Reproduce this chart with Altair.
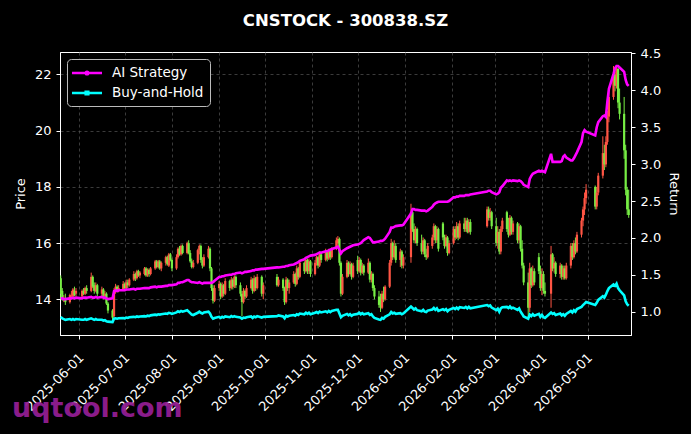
import altair as alt
import pandas as pd

# ---- trading calendar (SZSE) ----
holidays = ["2025-06-02", "2025-10-01", "2025-10-02", "2025-10-03", "2025-10-06",
            "2025-10-07", "2025-10-08", "2026-01-01", "2026-01-02", "2026-02-16",
            "2026-02-17", "2026-02-18", "2026-02-19", "2026-02-20", "2026-02-23",
            "2026-04-06", "2026-05-01", "2026-05-04", "2026-05-05"]
dates = [d.strftime("%Y-%m-%dT00:00:00") for d in pd.bdate_range("2025-05-20", "2026-05-28")
         if d.strftime("%Y-%m-%d") not in holidays]

# ---- OHLC ----
opens = [
    # 2025-05
    14.75, 14.30, 14.00, 14.05, 13.90, 14.10, 14.10, 14.30, 14.20,
    # 2025-06
    14.10, 14.30, 14.20, 14.40, 14.30, 14.80, 14.50, 14.30, 14.50, 14.20,
    14.35, 14.10, 14.20, 13.85, 13.60, 13.40, 14.30, 14.45, 14.30, 14.35,
    # 2025-07
    14.55, 14.40, 14.60, 14.50, 14.70, 14.90, 14.75, 15.00, 14.85, 14.90, 15.10, 14.85,
    15.05, 14.90, 15.10, 15.35, 15.15, 15.35, 15.10, 15.30, 15.50, 15.20, 15.60,
    # 2025-08
    15.40, 15.10, 15.50, 15.80, 15.60, 15.90, 15.65, 16.00, 15.65, 15.35, 15.15,
    15.30, 15.75, 15.90, 15.40, 15.20, 15.50, 15.80, 15.10, 14.40, 13.95,
    # 2025-09
    14.40, 14.55, 14.10, 14.50, 14.20, 14.65, 14.40, 14.70, 14.45, 14.80, 14.50,
    14.20, 13.90, 14.30, 14.10, 14.40, 14.70, 14.30, 14.75, 14.40, 14.80, 14.20,
    # 2025-10
    14.80, 14.50, 14.70, 14.40, 13.90, 14.70, 14.40, 14.60, 14.90, 14.55, 15.10,
    14.80, 15.30, 15.00, 15.40, 15.00, 15.35,
    # 2025-11
    14.90, 15.30, 15.50, 15.20, 15.60, 15.40, 15.70, 15.45, 15.75, 15.50,
    15.80, 16.00, 16.15, 15.30, 14.20, 14.80, 15.30, 14.90, 15.25, 14.80,
    # 2025-12
    15.40, 15.00, 15.40, 14.95, 15.20, 14.95, 15.30, 14.70, 14.90, 14.40, 14.10, 13.80,
    13.70, 14.20, 14.00, 14.45, 15.30, 16.00, 15.50, 15.90, 15.40, 15.70, 15.20,
    # 2026-01
    15.50, 17.10, 16.50, 16.10, 16.50, 16.00, 15.70, 16.10, 15.60, 15.50,
    15.90, 16.20, 16.60, 16.10, 16.50, 16.70, 16.20, 15.90, 16.20, 15.65,
    # 2026-02
    16.00, 16.50, 16.20, 16.60, 16.20, 16.70, 16.50, 16.80, 16.40, 16.75,
    16.60, 17.20, 16.90, 17.10,
    # 2026-03
    16.60, 16.00, 16.40, 15.70, 16.50, 17.10, 16.50, 16.30, 16.90, 16.40, 16.70,
    16.10, 16.60, 15.80, 15.20, 14.60, 13.70, 15.10, 14.50, 15.00, 15.50, 15.00,
    # 2026-04
    14.40, 14.90, 14.30, 14.20, 15.60, 15.10, 15.30, 14.90, 15.20, 14.80, 15.10,
    14.75, 15.20, 15.90, 15.50, 16.00, 15.70, 16.30, 16.80, 17.20, 17.60,
    # 2026-05
    18.00, 17.30, 17.80, 18.40, 19.20, 18.80, 19.60, 20.50, 21.20, 22.00,
    21.60, 22.20, 21.00, 20.60, 19.30, 17.90, 17.20,
]
highs = [
    14.85, 14.40, 14.15, 14.20, 14.20, 14.30, 14.40, 14.45, 14.40,
    14.35, 14.40, 14.45, 14.50, 14.95, 14.85, 14.60, 14.60, 14.55, 14.45,
    14.40, 14.30, 14.25, 13.90, 13.65, 14.40, 14.55, 14.50, 14.50, 14.65,
    14.60, 14.70, 14.70, 14.75, 15.00, 14.95, 15.05, 15.05, 15.00, 15.15, 15.15, 15.10,
    15.10, 15.15, 15.40, 15.40, 15.40, 15.40, 15.35, 15.55, 15.55, 15.65, 15.65,
    15.45, 15.60, 15.85, 15.90, 15.95, 15.95, 16.05, 16.10, 15.75, 15.45, 15.40,
    15.80, 15.95, 15.95, 15.50, 15.60, 15.90, 15.85, 15.15, 14.50, 14.50,
    14.65, 14.60, 14.60, 14.55, 14.75, 14.70, 14.80, 14.75, 14.85, 14.85, 14.60,
    14.30, 14.40, 14.35, 14.50, 14.80, 14.75, 14.85, 14.80, 14.90, 14.85, 14.60,
    14.90, 14.80, 14.75, 14.45, 14.80, 14.75, 14.70, 15.00, 14.95, 15.20, 15.15,
    15.35, 15.35, 15.50, 15.45, 15.45, 15.40,
    15.40, 15.55, 15.55, 15.70, 15.65, 15.80, 15.75, 15.80, 15.80, 15.85,
    16.20, 16.25, 16.20, 15.35, 14.90, 15.40, 15.35, 15.35, 15.30, 15.30,
    15.55, 15.50, 15.45, 15.30, 15.25, 15.45, 15.35, 15.00, 14.95, 14.50, 14.30, 14.20,
    14.30, 14.45, 14.50, 15.40, 16.15, 16.05, 16.10, 16.00, 15.80, 15.75, 15.60,
    17.40, 17.20, 16.70, 16.60, 16.55, 16.30, 16.20, 16.15, 15.80, 16.00,
    16.30, 16.70, 16.65, 16.60, 16.55, 16.75, 16.30, 16.30, 16.25, 16.10,
    16.60, 16.60, 16.75, 16.70, 16.80, 16.90, 16.90, 16.90, 16.85, 16.85,
    17.30, 17.30, 17.25, 17.15,
    16.90, 16.60, 16.50, 16.60, 16.90, 17.15, 16.90, 17.00, 16.95, 16.80, 16.75,
    16.70, 16.65, 16.10, 15.30, 14.95, 15.30, 15.15, 15.20, 15.10, 15.65, 15.20,
    15.10, 15.00, 14.60, 15.90, 15.65, 15.50, 15.35, 15.30, 15.25, 15.20, 15.20,
    15.30, 16.00, 16.00, 16.10, 16.20, 16.40, 16.90, 17.30, 17.80, 18.10,
    18.05, 18.00, 18.50, 19.80, 19.50, 19.80, 20.70, 21.50, 22.30, 22.10,
    22.30, 22.25, 21.50, 21.20, 19.50, 18.00, 17.90,
]
lows = [
    14.00, 13.95, 13.90, 13.80, 13.85, 14.00, 14.05, 14.10, 14.10,
    14.05, 14.15, 14.15, 14.20, 14.25, 14.40, 14.20, 14.25, 14.10, 14.10,
    14.00, 14.00, 13.80, 13.50, 13.25, 13.35, 14.20, 14.25, 14.25, 14.30,
    14.35, 14.35, 14.40, 14.45, 14.65, 14.65, 14.70, 14.80, 14.75, 14.85, 14.80, 14.80,
    14.80, 14.85, 15.05, 15.10, 15.10, 15.05, 15.00, 15.20, 15.20, 15.15, 15.35,
    15.00, 15.05, 15.45, 15.55, 15.55, 15.60, 15.60, 15.60, 15.30, 15.10, 15.10,
    15.25, 15.60, 15.30, 15.10, 15.15, 15.45, 15.00, 14.30, 13.85, 13.90,
    14.30, 14.00, 14.05, 14.10, 14.15, 14.30, 14.35, 14.35, 14.40, 14.40, 14.10,
    13.40, 13.85, 14.00, 14.05, 14.35, 14.20, 14.25, 14.30, 14.35, 14.10, 14.00,
    14.45, 14.45, 14.30, 13.80, 13.85, 14.30, 14.20, 14.55, 14.45, 14.50, 14.70,
    14.75, 14.90, 14.95, 14.90, 14.90, 14.80,
    14.85, 15.20, 15.10, 15.15, 15.30, 15.35, 15.35, 15.40, 15.40, 15.45,
    15.75, 15.90, 15.20, 14.10, 14.15, 14.75, 14.80, 14.85, 14.70, 14.75,
    14.90, 14.95, 14.85, 14.90, 14.85, 14.90, 14.60, 14.60, 14.30, 14.00, 13.70, 13.55,
    13.65, 13.90, 13.95, 14.40, 15.20, 15.40, 15.45, 15.30, 15.15, 15.10, 15.10,
    15.30, 16.40, 16.00, 16.00, 15.90, 15.60, 15.60, 15.50, 15.40, 15.45,
    15.80, 16.10, 16.00, 16.00, 15.70, 16.10, 15.80, 15.85, 15.55, 15.60,
    15.95, 16.10, 16.15, 16.10, 16.15, 16.40, 16.40, 16.35, 16.35, 16.30,
    16.55, 16.80, 16.80, 16.50,
    15.90, 15.80, 15.60, 15.60, 16.40, 16.40, 16.20, 16.25, 16.30, 16.30, 16.00,
    16.00, 15.70, 15.10, 14.50, 13.35, 13.55, 14.40, 14.45, 14.50, 14.90, 14.30,
    14.15, 14.20, 14.10, 13.70, 15.00, 14.95, 14.80, 14.75, 14.70, 14.70, 14.70,
    14.70, 15.10, 15.40, 15.45, 15.60, 15.65, 16.20, 16.60, 17.00, 17.40,
    17.20, 17.20, 17.70, 18.30, 18.60, 18.70, 19.50, 20.30, 21.10, 21.40,
    21.50, 20.80, 20.40, 19.00, 17.70, 17.00, 16.90,
]
closes = [
    14.20, 14.00, 14.05, 13.90, 14.15, 14.10, 14.35, 14.15, 14.30,
    14.30, 14.20, 14.40, 14.30, 14.80, 14.45, 14.30, 14.50, 14.20, 14.35,
    14.10, 14.20, 13.85, 13.60, 13.35, 14.30, 14.45, 14.30, 14.40, 14.55,
    14.40, 14.60, 14.50, 14.70, 14.90, 14.75, 15.00, 14.85, 14.95, 15.10, 14.85, 15.05,
    14.90, 15.10, 15.35, 15.15, 15.35, 15.10, 15.30, 15.50, 15.25, 15.60, 15.40,
    15.10, 15.50, 15.80, 15.60, 15.90, 15.65, 16.00, 15.65, 15.35, 15.15, 15.30,
    15.75, 15.90, 15.40, 15.20, 15.50, 15.80, 15.10, 14.40, 13.95, 14.40,
    14.55, 14.10, 14.50, 14.20, 14.65, 14.40, 14.70, 14.45, 14.80, 14.50, 14.20,
    13.90, 14.30, 14.10, 14.40, 14.70, 14.30, 14.75, 14.40, 14.80, 14.20, 14.50,
    14.50, 14.70, 14.40, 13.90, 14.70, 14.40, 14.60, 14.90, 14.55, 15.10, 14.80,
    15.30, 15.00, 15.40, 15.00, 15.35, 14.90,
    15.30, 15.50, 15.20, 15.60, 15.40, 15.70, 15.45, 15.75, 15.50, 15.80,
    16.10, 16.15, 15.30, 14.20, 14.80, 15.30, 14.90, 15.25, 14.80, 15.20,
    15.00, 15.40, 14.95, 15.20, 14.95, 15.30, 14.70, 14.90, 14.40, 14.10, 13.80, 13.70,
    14.20, 14.00, 14.45, 15.30, 16.00, 15.50, 15.90, 15.40, 15.70, 15.20, 15.50,
    17.10, 16.50, 16.10, 16.50, 16.00, 15.70, 16.10, 15.60, 15.50, 15.90,
    16.20, 16.60, 16.10, 16.50, 15.80, 16.20, 15.90, 16.20, 15.65, 16.00,
    16.50, 16.20, 16.60, 16.20, 16.70, 16.50, 16.80, 16.40, 16.75, 16.40,
    17.20, 16.90, 17.10, 16.60,
    16.00, 16.40, 15.70, 16.50, 16.80, 16.50, 16.30, 16.90, 16.40, 16.70, 16.10,
    16.60, 15.80, 15.20, 14.60, 13.70, 15.10, 14.50, 15.00, 14.60, 15.00, 14.40,
    14.90, 14.30, 14.20, 15.60, 15.10, 15.30, 14.90, 15.20, 14.80, 15.10, 14.75,
    15.20, 15.90, 15.50, 16.00, 15.70, 16.30, 16.80, 17.20, 17.60, 17.90,
    17.30, 17.80, 18.40, 19.20, 18.80, 19.60, 20.50, 21.20, 22.00, 21.60,
    22.20, 21.00, 20.60, 19.30, 17.90, 17.20, 17.00,
]

# ---- cumulative returns ----
ai_strategy = [
    1.18, 1.18, 1.17, 1.17, 1.18, 1.18, 1.19, 1.18, 1.19,
    1.18, 1.19, 1.19, 1.19, 1.20, 1.19, 1.19, 1.20, 1.19, 1.20,
    1.19, 1.19, 1.18, 1.17, 1.18, 1.28, 1.29, 1.28, 1.29, 1.29,
    1.29, 1.30, 1.30, 1.30, 1.31, 1.30, 1.31, 1.31, 1.31, 1.32, 1.32, 1.32,
    1.32, 1.33, 1.34, 1.33, 1.34, 1.34, 1.34, 1.35, 1.35, 1.36, 1.36,
    1.36, 1.37, 1.39, 1.39, 1.40, 1.40, 1.43, 1.43, 1.41, 1.40, 1.40,
    1.39, 1.40, 1.39, 1.38, 1.39, 1.39, 1.39, 1.39, 1.40, 1.42,
    1.47, 1.47, 1.48, 1.48, 1.49, 1.50, 1.50, 1.51, 1.51, 1.52, 1.53,
    1.52, 1.53, 1.54, 1.54, 1.55, 1.56, 1.56, 1.57, 1.57, 1.58, 1.58,
    1.60, 1.60, 1.61, 1.61, 1.62, 1.62, 1.63, 1.64, 1.65, 1.66, 1.67,
    1.69, 1.71, 1.73, 1.74, 1.75, 1.76,
    1.77, 1.78, 1.79, 1.80, 1.80, 1.82, 1.82, 1.83, 1.84, 1.85,
    1.87, 1.88, 1.84, 1.79, 1.82, 1.86, 1.87, 1.88, 1.89, 1.90,
    1.91, 1.92, 1.93, 1.95, 1.97, 2.01, 2.00, 1.97, 1.94, 1.94, 1.95, 1.96,
    1.96, 1.97, 1.99, 2.08, 2.14, 2.14, 2.15, 2.16, 2.17, 2.17, 2.18,
    2.33, 2.39, 2.39, 2.38, 2.38, 2.37, 2.37, 2.37, 2.36, 2.37,
    2.42, 2.45, 2.47, 2.48, 2.49, 2.49, 2.49, 2.49, 2.49, 2.50,
    2.55, 2.55, 2.56, 2.56, 2.57, 2.57, 2.58, 2.58, 2.58, 2.59,
    2.63, 2.64, 2.64, 2.62,
    2.59, 2.60, 2.62, 2.68, 2.70, 2.78, 2.77, 2.78, 2.77, 2.78, 2.77,
    2.78, 2.77, 2.75, 2.72, 2.69, 2.80, 2.84, 2.87, 2.88, 2.91, 2.90,
    2.91, 2.90, 2.89, 3.14, 3.03, 3.03, 3.03, 3.03, 3.04, 3.10, 3.12,
    3.09, 3.05, 3.05, 3.08, 3.12, 3.16, 3.30, 3.42, 3.46, 3.44,
    3.39, 3.50, 3.57, 3.65, 3.66, 3.64, 3.85, 4.02, 4.22, 4.30,
    4.33, 4.33, 4.31, 4.25, 4.14, 4.08, 4.06,
]
buy_and_hold = [
    0.93, 0.91, 0.90, 0.89, 0.90, 0.89, 0.90, 0.89, 0.90,
    0.89, 0.89, 0.90, 0.89, 0.91, 0.90, 0.89, 0.90, 0.89, 0.89,
    0.88, 0.885, 0.87, 0.865, 0.86, 0.905, 0.91, 0.905, 0.91, 0.915,
    0.91, 0.92, 0.915, 0.925, 0.93, 0.925, 0.935, 0.93, 0.935, 0.94, 0.935, 0.945,
    0.94, 0.95, 0.96, 0.955, 0.965, 0.96, 0.965, 0.975, 0.97, 0.985, 0.98,
    0.97, 0.99, 1.005, 0.995, 1.01, 1.0, 1.02, 1.0, 0.98, 0.96, 0.955,
    0.985, 1.0, 0.985, 0.975, 0.99, 1.0, 0.975, 0.93, 0.905, 0.915,
    0.93, 0.915, 0.93, 0.92, 0.935, 0.925, 0.94, 0.93, 0.94, 0.93, 0.92,
    0.905, 0.92, 0.915, 0.925, 0.935, 0.915, 0.935, 0.925, 0.94, 0.92, 0.93,
    0.94, 0.95, 0.935, 0.91, 0.945, 0.935, 0.945, 0.955, 0.945, 0.965, 0.955,
    0.975, 0.965, 0.985, 0.97, 0.985, 0.965,
    0.985, 0.995, 0.98, 1.0, 0.99, 1.005, 0.99, 1.01, 0.995, 1.01,
    1.025, 1.025, 0.975, 0.925, 0.945, 0.97, 0.95, 0.965, 0.945, 0.96,
    0.97, 0.985, 0.965, 0.98, 0.965, 0.98, 0.955, 0.965, 0.935, 0.915, 0.895, 0.89,
    0.915, 0.905, 0.93, 0.965, 0.995, 0.975, 0.985, 0.97, 0.98, 0.965, 0.975,
    1.07, 1.05, 1.03, 1.045, 1.02, 1.005, 1.025, 1.0, 0.995, 1.015,
    1.03, 1.05, 1.025, 1.045, 1.01, 1.035, 1.02, 1.035, 1.005, 1.025,
    1.05, 1.035, 1.055, 1.035, 1.06, 1.05, 1.065, 1.045, 1.065, 1.045,
    1.09, 1.075, 1.085, 1.055,
    1.02, 1.04, 1.0, 1.045, 1.06, 1.065, 1.05, 1.07, 1.045, 1.055, 1.025,
    1.045, 1.0, 0.97, 0.935, 0.905, 0.96, 0.94, 0.965, 0.945, 0.97, 0.93,
    0.955, 0.925, 0.915, 0.99, 0.97, 0.98, 0.955, 0.975, 0.95, 0.965, 0.945,
    0.97, 1.01, 0.99, 1.02, 1.0, 1.035, 1.065, 1.09, 1.11, 1.13,
    1.09, 1.12, 1.16, 1.21, 1.19, 1.23, 1.28, 1.32, 1.37, 1.35,
    1.38, 1.32, 1.29, 1.22, 1.14, 1.10, 1.08,
]

n = len(dates)
for name, arr in [("opens", opens), ("highs", highs), ("lows", lows), ("closes", closes),
                  ("ai", ai_strategy), ("bh", buy_and_hold)]:
    assert len(arr) == n, f"{name}: {len(arr)} vs {n}"

month_ticks = ["2025-06-01", "2025-07-01", "2025-08-01", "2025-09-01", "2025-10-01",
               "2025-11-01", "2025-12-01", "2026-01-01", "2026-02-01", "2026-03-01",
               "2026-04-01", "2026-05-01"]

df = pd.DataFrame({
    "date": dates, "open": opens, "high": highs, "low": lows, "close": closes,
    "AI Strategy": ai_strategy, "Buy-and-Hold": buy_and_hold,
})

RED = "#ff5544"
GREEN = "#77ee44"

def dt(s, h=0):
    y, m, d = (int(v) for v in s.split("-"))
    return alt.DateTime(year=y, month=m, date=d, hours=h)

x_scale = alt.Scale(domain=[dt("2025-05-19", 12), dt("2026-05-29", 12)], nice=False)
x_axis = alt.Axis(values=[dt(s) for s in month_ticks], format="%Y-%m-%d", labelAngle=-45,
                  labelAlign="right", labelBaseline="top", labelPadding=12, labelOffset=-2,
                  tickSize=4, grid=True, title=None, labelOverlap=False, labelFlush=False)
price_scale = alt.Scale(domain=[12.73, 22.8], nice=False, zero=False)
ret_scale = alt.Scale(domain=[0.684, 4.52], nice=False, zero=False)

candle_color = alt.condition("datum.close >= datum.open", alt.value(RED), alt.value(GREEN))

base = alt.Chart(df).encode(x=alt.X("date:T", scale=x_scale, axis=x_axis))

wick = base.mark_rule(strokeWidth=1, clip=True).encode(
    y=alt.Y("low:Q", scale=price_scale,
            axis=alt.Axis(values=[14, 16, 18, 20, 22], tickSize=4, labelPadding=5,
                          titlePadding=7, grid=True, title="Price")),
    y2="high:Q",
    color=candle_color,
)
body = base.mark_rule(strokeWidth=2.2, clip=True).encode(
    y=alt.Y("open:Q", scale=price_scale, title="Price"),
    y2="close:Q",
    color=candle_color,
)
price = alt.layer(wick, body)

sym_expr = ("datum.label == 'AI Strategy' ? "
            "'M-2.31,0H2.31M-0.2,0A0.2,0.2 0 1 1 0.2,0A0.2,0.2 0 1 1 -0.2,0Z' : "
            "'M-2.31,0H2.31M-0.2,-0.2H0.2V0.2H-0.2Z'")

lines = base.transform_fold(["AI Strategy", "Buy-and-Hold"], as_=["series", "value"]).mark_line(
    strokeWidth=2.6, clip=True
).encode(
    y=alt.Y("value:Q", scale=ret_scale,
            axis=alt.Axis(orient="right", values=[1.0, 1.5, 2.0, 2.5, 3.0, 3.5, 4.0, 4.5],
                          format=".1f", tickSize=4, labelPadding=5, titlePadding=6,
                          grid=False, title="Return")),
    color=alt.Color("series:N",
                    scale=alt.Scale(domain=["AI Strategy", "Buy-and-Hold"],
                                    range=["#ff00ff", "#00ffff"]),
                    legend=alt.Legend(title=None, orient="top-left", offset=7,
                                      fillColor="#000000", strokeColor="#bbbbbb",
                                      cornerRadius=4, padding=6, labelColor="white",
                                      labelFontSize=13.5, symbolType={"expr": sym_expr},
                                      symbolSize=169, symbolStrokeWidth=2.5,
                                      symbolOffset=6, rowPadding=5, labelOffset=17)),
)

watermark = alt.Chart(pd.DataFrame({"t": ["uqtool.com"]})).mark_text(
    align="left", baseline="alphabetic", font="DejaVu Sans", fontWeight="bold",
    fontSize=27, color="#921e92", opacity=0.95,
).encode(text="t:N", x=alt.value(-48), y=alt.value(365))

chart = alt.layer(price, lines, watermark).resolve_scale(y="independent").properties(
    width=571, height=283,
    title=alt.TitleParams("CNSTOCK - 300838.SZ", fontSize=16.5, fontWeight="bold",
                          color="white", offset=18, anchor="middle"),
    autosize=alt.AutoSizeParams(type="none"),
    padding={"left": 60, "top": 52, "right": 60, "bottom": 99},
).configure(background="#000000", font="DejaVu Sans").configure_view(
    stroke="white", strokeWidth=1
).configure_axis(
    domainColor="white", tickColor="white", labelColor="white", titleColor="white",
    labelFontSize=13, titleFontSize=13, titleFontWeight="normal",
    gridColor="#555555", gridDash=[3, 3], gridWidth=0.7, domainWidth=1,
)

chart.save("out.html", embed_options={"renderer": "svg", "actions": False})
